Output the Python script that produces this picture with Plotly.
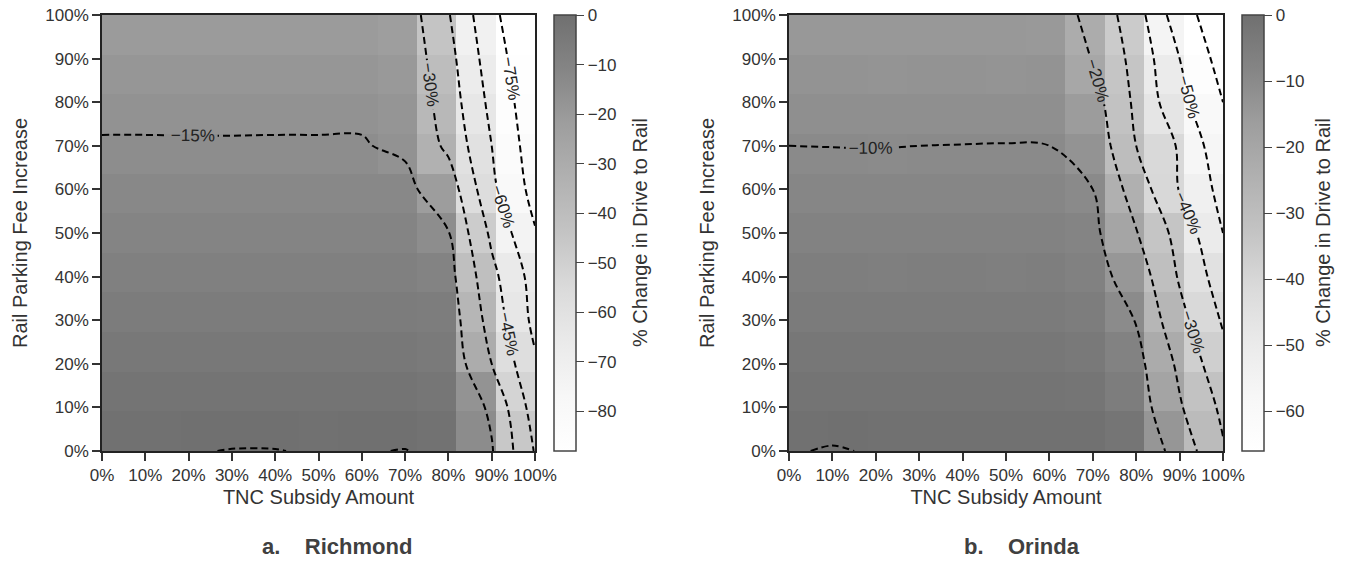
import plotly.graph_objects as go

# ---------------- data ----------------
# grid axes (percent)
tnc_subsidy = [0, 10, 20, 30, 40, 50, 60, 70, 80, 90, 100]
parking_fee = [0, 10, 20, 30, 40, 50, 60, 70, 80, 90, 100]
tick_labels = ["0%", "10%", "20%", "30%", "40%", "50%", "60%", "70%", "80%", "90%", "100%"]

# % change in drive-to-rail, rows = parking fee (0% .. 100%), cols = TNC subsidy (0% .. 100%)
richmond_z = [
    [-0.4, -0.3, -0.2, 0.1, 0.1, -0.3, -0.2, 0.1, -1.0, -14.0, -46.0],
    [-2.0, -2.1, -2.0, -1.9, -2.0, -2.1, -2.0, -2.2, -3.0, -17.3, -52.0],
    [-4.1, -4.2, -4.2, -4.1, -4.2, -4.2, -4.1, -4.3, -5.0, -30.0, -58.0],
    [-6.2, -6.3, -6.3, -6.2, -6.3, -6.3, -6.2, -6.4, -7.0, -36.0, -64.0],
    [-8.3, -8.3, -8.4, -8.3, -8.3, -8.4, -8.3, -8.5, -10.0, -41.0, -66.0],
    [-10.3, -10.4, -10.4, -10.3, -10.4, -10.4, -10.3, -10.5, -14.5, -48.0, -74.0],
    [-12.4, -12.4, -12.5, -12.4, -12.4, -12.5, -12.4, -12.3, -21.5, -57.0, -80.0],
    [-14.5, -14.5, -14.55, -14.55, -14.5, -14.5, -14.5, -16.5, -33.0, -60.0, -83.0],
    [-16.5, -16.5, -16.5, -16.5, -16.5, -16.5, -16.5, -18.0, -37.0, -64.0, -85.0],
    [-18.5, -18.6, -18.5, -18.6, -18.5, -18.6, -18.5, -20.0, -40.0, -68.0, -87.0],
    [-20.5, -20.6, -20.5, -20.6, -20.5, -20.6, -20.5, -22.0, -44.0, -72.0, -88.0],
]

orinda_z = [
    [-0.2, 0.2, -0.2, -0.3, -0.3, -0.2, -0.3, -0.5, -2.0, -14.0, -29.0],
    [-1.4, -1.4, -1.5, -1.4, -1.4, -1.5, -1.4, -1.8, -5.0, -19.0, -32.0],
    [-2.8, -2.8, -2.9, -2.8, -2.8, -2.9, -2.8, -3.5, -7.0, -22.0, -37.0],
    [-4.2, -4.2, -4.3, -4.2, -4.2, -4.3, -4.2, -5.0, -10.3, -27.0, -41.0],
    [-5.6, -5.6, -5.7, -5.6, -5.6, -5.7, -5.6, -6.5, -14.3, -31.0, -45.0],
    [-7.0, -7.0, -7.1, -7.0, -7.0, -7.1, -7.0, -8.0, -19.5, -33.5, -50.0],
    [-8.5, -8.5, -8.5, -8.5, -8.5, -8.5, -8.5, -10.0, -24.3, -40.6, -53.0],
    [-10.0, -10.05, -10.1, -10.0, -9.95, -9.9, -10.0, -13.0, -30.0, -41.0, -57.0],
    [-11.5, -11.5, -11.6, -11.5, -11.5, -11.6, -11.5, -16.0, -32.0, -47.0, -60.0],
    [-13.0, -13.0, -13.1, -13.0, -13.0, -13.1, -13.0, -20.5, -33.2, -50.0, -64.0],
    [-14.5, -14.5, -14.6, -14.5, -14.5, -14.6, -15.0, -22.7, -35.7, -56.0, -66.0],
]

richmond_levels = dict(start=-75, end=0, size=15)
orinda_levels = dict(start=-60, end=0, size=10)
richmond_cbar_ticks = [0, -10, -20, -30, -40, -50, -60, -70, -80]
orinda_cbar_ticks = [0, -10, -20, -30, -40, -50, -60]

panel_titles = ["a.\u00a0\u00a0\u00a0 Richmond", "b.\u00a0\u00a0\u00a0 Orinda"]
x_title = "TNC Subsidy Amount"
y_title = "Rail Parking Fee Increase"
cbar_title = "% Change in Drive to Rail"

# ---------------- styling ----------------
W, H = 1347, 579
FONT = "Liberation Sans, Arial, sans-serif"
TXT = "#333333"


def px(v):
    return v / W


def py(v):
    return 1 - v / H


greys = [
    [0.0, "rgb(255,255,255)"],
    [0.125, "rgb(247,247,247)"],
    [0.25, "rgb(234,234,234)"],
    [0.375, "rgb(218,218,218)"],
    [0.5, "rgb(196,196,196)"],
    [0.625, "rgb(177,177,177)"],
    [0.75, "rgb(158,158,158)"],
    [0.875, "rgb(133,133,133)"],
    [1.0, "rgb(112,112,112)"],
]

n = len(tnc_subsidy)
cell = 100.0 / n
img_x = [(i + 0.5) * cell for i in range(n)]
img_y = [(i + 0.5) * cell for i in range(len(parking_fee))]

panels = [
    dict(z=richmond_z, lv=richmond_levels, ticks=richmond_cbar_ticks,
         x0=102, x1=535, cb=554, cbt=640, title_x=337),
    dict(z=orinda_z, lv=orinda_levels, ticks=orinda_cbar_ticks,
         x0=789, x1=1223, cb=1242, cbt=1323, title_x=1022),
]
top_px, bot_px = 15, 451

fig = go.Figure()
annotations = []
for k, p in enumerate(panels):
    xa = "x" if k == 0 else "x2"
    ya = "y" if k == 0 else "y2"
    zmin = min(min(r) for r in p["z"])
    fig.add_trace(go.Heatmap(
        x=img_x, y=img_y, z=p["z"], xaxis=xa, yaxis=ya,
        colorscale=greys, zmin=zmin, zmax=0, hoverinfo="skip",
        colorbar=dict(
            x=px(p["cb"]), xanchor="left", xpad=0, ypad=0,
            y=py(top_px), yanchor="top",
            len=(bot_px - top_px) / H, lenmode="fraction",
            thickness=22, thicknessmode="pixels",
            outlinecolor="#444444", outlinewidth=1.5,
            tickvals=p["ticks"], ticks="outside", ticklen=8,
            tickwidth=1.2, tickcolor="#444444",
            ticklabeloverflow="allow",
            tickfont=dict(family=FONT, size=17, color=TXT),
        ),
    ))
    zc = [[v / 100.0 for v in row] for row in p["z"]]
    lv = p["lv"]
    fig.add_trace(go.Contour(
        x=tnc_subsidy, y=parking_fee, z=zc, xaxis=xa, yaxis=ya,
        showscale=False, hoverinfo="skip",
        autocontour=False,
        contours=dict(coloring="none", start=lv["start"] / 100.0,
                      end=lv["end"] / 100.0 + 1e-4, size=lv["size"] / 100.0,
                      showlabels=True, labelformat=".0%",
                      labelfont=dict(family=FONT, size=17, color="#222222")),
        line=dict(color="black", width=2, dash="7px,4px"),
    ))
    annotations.append(dict(
        text="<b>" + panel_titles[k] + "</b>", x=px(p["title_x"]), y=py(546),
        xref="paper", yref="paper", xanchor="center", yanchor="middle",
        showarrow=False, font=dict(family=FONT, size=22, color="#404040"),
    ))
    annotations.append(dict(
        text=cbar_title, x=px(p["cbt"]), y=py((top_px + bot_px) / 2),
        xref="paper", yref="paper", xanchor="center", yanchor="middle",
        textangle=-90, showarrow=False,
        font=dict(family=FONT, size=20, color=TXT),
    ))

axis_common = dict(
    range=[0, 100], showgrid=False, zeroline=False, automargin=False,
    showline=True, mirror=True, linecolor="#222222", linewidth=1.5,
    ticks="outside", ticklen=8, tickwidth=1.5, tickcolor="#333333",
    tickvals=tnc_subsidy, ticktext=tick_labels, ticklabeloverflow="allow",
    tickfont=dict(family=FONT, size=17, color=TXT),
)
ydom = [py(bot_px), py(top_px)]
layout = dict(
    width=W, height=H,
    margin=dict(l=0, r=0, t=0, b=0, autoexpand=False),
    paper_bgcolor="white", plot_bgcolor="white",
    showlegend=False,
    annotations=annotations,
)
for k, p in enumerate(panels):
    sx = "" if k == 0 else "2"
    layout["xaxis" + sx] = dict(axis_common, domain=[px(p["x0"]), px(p["x1"])],
                                anchor="y" + sx,
                                title=dict(text=x_title, standoff=6,
                                           font=dict(family=FONT, size=20, color=TXT)))
    layout["yaxis" + sx] = dict(axis_common, domain=ydom, anchor="x" + sx,
                                tickvals=parking_fee,
                                title=dict(text=y_title, standoff=12,
                                           font=dict(family=FONT, size=20, color=TXT)))
fig.update_layout(**layout)
# the page's default body margin would shift the figure by 8px; remove it
fig.write_html("out.html", config={"displayModeBar": False},
               post_script="document.body.style.margin='0px';")
